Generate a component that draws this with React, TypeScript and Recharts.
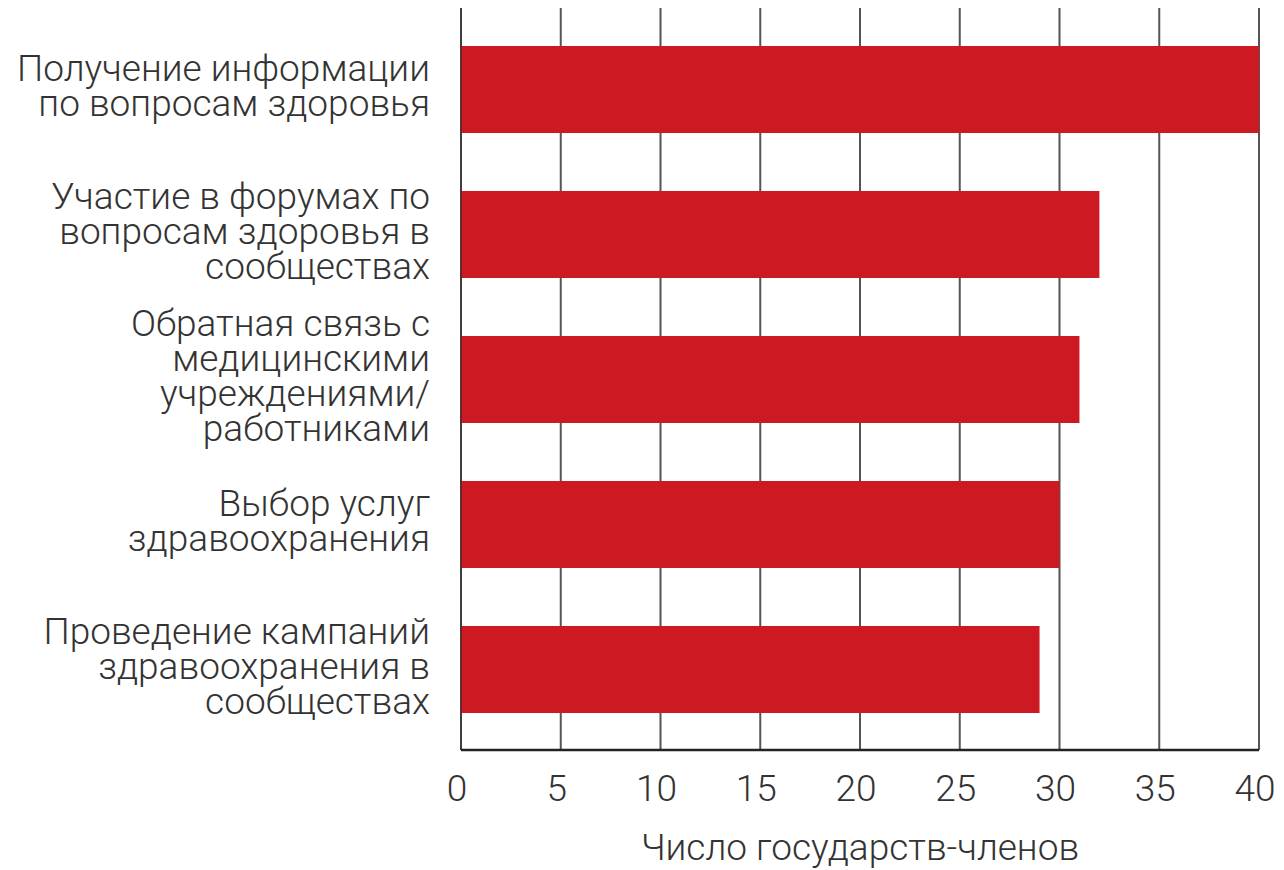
import React from "react";
import {
  BarChart,
  Bar,
  XAxis,
  YAxis,
  CartesianGrid,
  ReferenceLine,
} from "recharts";

// Categories (each "\n" marks a line break in the axis label)
const categories: string[] = [
  "Получение информации\nпо вопросам здоровья",
  "Участие в форумах по\nвопросам здоровья в\nсообществах",
  "Обратная связь с\nмедицинскими\nучреждениями/\nработниками",
  "Выбор услуг\nздравоохранения",
  "Проведение кампаний\nздравоохранения в\nсообществах",
];

// Number of member states per activity
const memberStates: number[] = [40, 32, 31, 30, 29];

// Value axis ticks
const xTicks: number[] = [0, 5, 10, 15, 20, 25, 30, 35, 40];

const axisTitle = "Число государств-членов";

const data = categories.map((name, i) => ({ name, value: memberStates[i] }));

const FONT = "Roboto, 'Noto Sans', sans-serif";
const TEXT_COLOR = "#333333";
const FONT_SIZE = 37;
const LINE_HEIGHT = 35;

const CategoryTick = (props: any) => {
  const { x, y, payload } = props;
  const lines: string[] = String(payload.value).split("\n");
  // centre the block of lines on the band, baseline-based
  const capHalf = FONT_SIZE * 0.36;
  const firstBaseline = y - 4 - ((lines.length - 1) * LINE_HEIGHT) / 2 + capHalf;
  return (
    <text
      x={x}
      y={firstBaseline}
      textAnchor="end"
      fontFamily={FONT}
      fontWeight={300}
      fontSize={FONT_SIZE}
      fill={TEXT_COLOR}
    >
      {lines.map((line, i) => (
        <tspan key={i} x={x} y={firstBaseline + i * LINE_HEIGHT}>
          {line}
        </tspan>
      ))}
    </text>
  );
};

const ValueTick = (props: any) => {
  const { x, y, payload } = props;
  return (
    <text
      x={x - 4}
      y={y + 51}
      textAnchor="middle"
      fontFamily={FONT}
      fontWeight={300}
      fontSize={FONT_SIZE}
      fill={TEXT_COLOR}
    >
      {payload.value}
    </text>
  );
};

export default function App() {
  return (
    <div style={{ position: "absolute", left: 0, top: 0, background: "#ffffff" }}>
      <BarChart
        width={1284}
        height={870}
        data={data}
        layout="vertical"
        margin={{ top: 8, right: 25, bottom: 0, left: 0 }}
        barCategoryGap="20%"
      >
        <CartesianGrid
          horizontal={false}
          vertical={true}
          stroke="#555555"
          strokeWidth={2}
        />
        <XAxis
          type="number"
          domain={[0, 40]}
          ticks={xTicks}
          height={120}
          tickLine={false}
          tickSize={0}
          tickMargin={0}
          axisLine={{ stroke: "#222222", strokeWidth: 2.5 }}
          tick={<ValueTick />}
          interval={0}
          label={{
            value: axisTitle,
            position: "insideBottom",
            offset: 10,
            fontFamily: FONT,
            fontWeight: 300,
            fontSize: FONT_SIZE,
            fill: TEXT_COLOR,
          }}
        />
        <YAxis
          type="category"
          dataKey="name"
          width={461}
          axisLine={false}
          tickLine={false}
          tickSize={0}
          tickMargin={31}
          padding={{ top: 9, bottom: 8 }}
          tick={<CategoryTick />}
          interval={0}
        />
        <Bar dataKey="value" fill="#CD1921" isAnimationActive={false} />
        <ReferenceLine x={0} stroke="#222222" strokeOpacity={0.6} strokeWidth={1.5} />
      </BarChart>
    </div>
  );
}
